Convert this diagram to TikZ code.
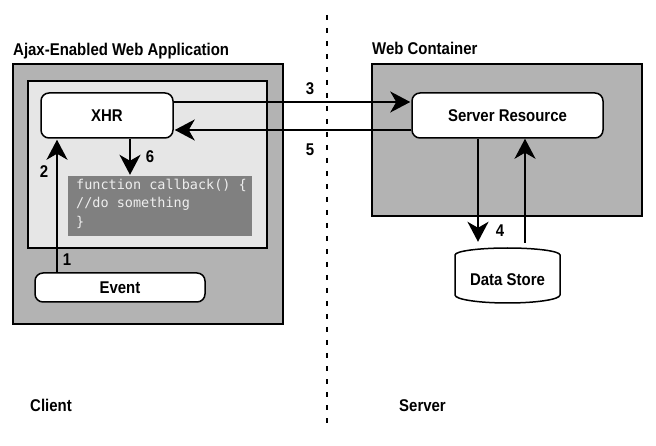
\documentclass[tikz,border=0pt]{standalone}
\usepackage{fontspec}
\setmainfont{Liberation Sans}[FakeStretch=0.88]
\newfontfamily\codefont{DejaVu Sans Mono}
\usetikzlibrary{arrows.meta}
\definecolor{outergray}{HTML}{B3B3B3}
\definecolor{innergray}{HTML}{E6E6E6}
\definecolor{codegray}{HTML}{808080}
\definecolor{codetext}{HTML}{EEEEEE}
\tikzset{
  lbl/.style={font=\fontsize{17}{19}\selectfont\bfseries, inner sep=0pt},
  panel/.style={draw=black, line width=1.5pt},
  rbox/.style={draw=black, fill=white, line width=1.5pt, rounded corners=8pt,
    font=\fontsize{17}{19}\selectfont\bfseries, inner sep=0pt},
  arr/.style={line width=2pt, -{Stealth[length=20pt,width=21pt,inset=6pt]}, shorten >=1pt},
  num/.style={font=\fontsize{17}{19}\selectfont\bfseries, inner sep=0pt},
}
\begin{document}
\begin{tikzpicture}[x=1pt,y=-1pt]
\useasboundingbox (0,0) rectangle (656,446);
% panels
\draw[panel, fill=outergray] (13,64) rectangle (283,324);
\draw[panel, fill=innergray] (28,81) rectangle (267,248);
\draw[panel, fill=outergray] (372,64) rectangle (642,216);
% titles
\node[lbl, anchor=base west] (tapp) at (13,56) {Ajax-Enabled Web Application};
\node[lbl, anchor=base west] (tweb) at (372,55) {Web Container};
\node[lbl, anchor=base west] (tcli) at (30,411) {Client};
\node[lbl, anchor=base west] (tsrv) at (399,411) {Server};
% divider
\coordinate (dtop) at (327,15);
\coordinate (dbot) at (327,430);
\draw[line width=2pt, dash pattern=on 5pt off 8pt] (dtop) -- (dbot);
% nodes
\node[rbox, minimum width=132pt, minimum height=45pt] (xhr) at (107,115.5) {XHR};
\node[rbox, minimum width=170pt, minimum height=29pt] (ev) at (120,287.5) {Event};
\node[rbox, minimum width=191pt, minimum height=45pt] (sr) at (507.5,115.5) {Server Resource};
\node[fill=codegray, minimum width=184pt, minimum height=60pt, inner sep=0pt] (cb) at (160,206) {};
\node[anchor=north west, inner sep=0pt, align=left, text=codetext,
  font=\codefont\fontsize{13.5}{18.3}\selectfont] (cbt) at (76,179)
  {function callback() \{\\//do something\\\}};
% data store
\draw[line width=1.5pt, fill=white] (455,295) -- (455,255)
  arc[start angle=180, end angle=0, x radius=52.5pt, y radius=7pt]
  -- (560,295)
  arc[start angle=0, end angle=-180, x radius=52.5pt, y radius=8pt] -- cycle;
\node[minimum width=105pt, minimum height=60pt, inner sep=0pt] (dsb) at (507.5,273) {};
\node[font=\fontsize{17}{19}\selectfont\bfseries, inner sep=0pt] (ds) at (507.5,280) {Data Store};
% connector x/y helpers
\coordinate (x12) at (57,0);
\coordinate (x6) at (130,0);
\coordinate (y3) at (0,102);
\coordinate (y5) at (0,130);
\coordinate (x4) at (478,0);
\coordinate (xup) at (525,0);
% connectors
\draw[arr] (ev.north -| x12) -- (xhr.south -| x12);
\draw[arr] (xhr.south -| x6) -- (cb.north -| x6);
\draw[arr] (xhr.east |- y3) -- (sr.west |- y3);
\draw[arr] (sr.west |- y5) -- (xhr.east |- y5);
\draw[arr] (sr.south -| x4) -- (dsb.north -| x4);
\draw[arr, shorten >=0pt] (dsb.north -| xup) -- (sr.south -| xup);
% numbers
\node[num] (n1) at (67,260) {1};
\node[num] (n2) at (44,172) {2};
\node[num] (n6) at (150,157) {6};
\node[num] (n3) at (310,89) {3};
\node[num] (n5) at (310,150) {5};
\node[num] (n4) at (500,231) {4};
\end{tikzpicture}
\end{document}
